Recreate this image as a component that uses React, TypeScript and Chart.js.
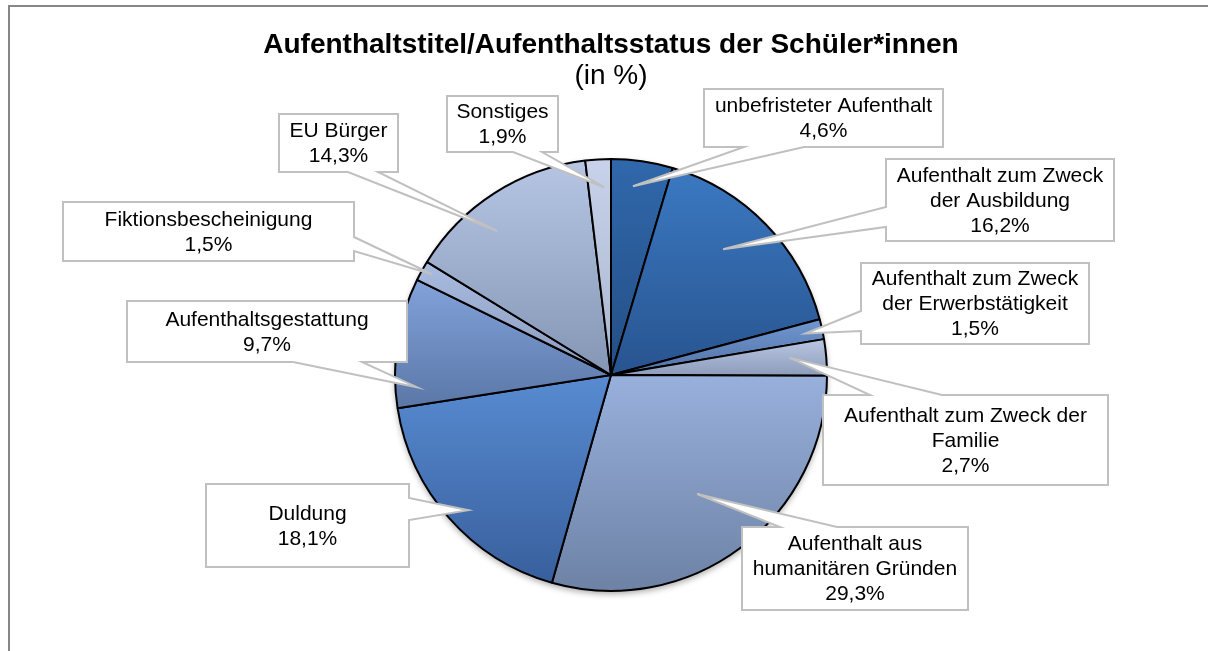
import React, { useEffect, useRef } from 'react';
import { Chart, registerables } from 'chart.js';

Chart.register(...registerables);

// ---------- data ----------
const titleText = 'Aufenthaltstitel/Aufenthaltsstatus der Schüler*innen';
const subtitleText = '(in %)';

const categories = [
  'unbefristeter Aufenthalt',
  'Aufenthalt zum Zweck der Ausbildung',
  'Aufenthalt zum Zweck der Erwerbstätigkeit',
  'Aufenthalt zum Zweck der Familie',
  'Aufenthalt aus humanitären Gründen',
  'Duldung',
  'Aufenthaltsgestattung',
  'Fiktionsbescheinigung',
  'EU Bürger',
  'Sonstiges',
];

const values = [4.6, 16.2, 1.5, 2.7, 29.3, 18.1, 9.7, 1.5, 14.3, 1.9];

// how each category name is wrapped inside its callout box
const labelLines = [
  ['unbefristeter Aufenthalt'],
  ['Aufenthalt zum Zweck', 'der Ausbildung'],
  ['Aufenthalt zum Zweck', 'der Erwerbstätigkeit'],
  ['Aufenthalt zum Zweck der', 'Familie'],
  ['Aufenthalt aus', 'humanitären Gründen'],
  ['Duldung'],
  ['Aufenthaltsgestattung'],
  ['Fiktionsbescheinigung'],
  ['EU Bürger'],
  ['Sonstiges'],
];

// ---------- styles ----------
const topColors = [
  '#3068ab', '#3b79c2', '#7097d0', '#bac7e3', '#98b0dc',
  '#588bd1', '#82a2da', '#a9bbe0', '#b6c5e4', '#c8d2ea',
];
const bottomColors = [
  '#244e85', '#28548f', '#5272a6', '#8c9cba', '#6d82a5',
  '#385f9d', '#5a77a7', '#8a9bbc', '#8596b5', '#a9b6d0',
];

type Callout = {
  box: [number, number, number, number];
  edge: 'top' | 'bottom' | 'left' | 'right';
  base: [number, number];
  t: number; // position of pointer tip along the slice angle (0..1)
  r: number; // position of pointer tip as a fraction of the radius
};

const callouts: Callout[] = [
  { box: [704, 89, 943, 147], edge: 'bottom', base: [744, 804], t: 0.4, r: 0.88 },
  { box: [886, 159, 1114, 241], edge: 'left', base: [207, 227], t: 0.43, r: 0.78 },
  { box: [861, 263, 1089, 344], edge: 'left', base: [311, 331], t: 0.54, r: 0.92 },
  { box: [823, 395, 1108, 485], edge: 'top', base: [870, 942], t: 0.41, r: 0.83 },
  { box: [742, 527, 968, 610], edge: 'top', base: [780, 837], t: 0.51, r: 0.68 },
  { box: [206, 484, 409, 567], edge: 'right', base: [498, 520], t: 0.47, r: 0.91 },
  { box: [127, 301, 407, 362], edge: 'bottom', base: [293, 362], t: 0.15, r: 0.9 },
  { box: [63, 202, 354, 261], edge: 'right', base: [237, 251], t: 0.6, r: 0.95 },
  { box: [279, 114, 398, 172], edge: 'bottom', base: [348, 378], t: 0.39, r: 0.85 },
  { box: [447, 96, 558, 152], edge: 'bottom', base: [513, 542], t: 0.7, r: 0.87 },
];

const FONT = '"Liberation Sans", Arial, Helvetica, sans-serif';
const PIE_RADIUS = 216;

const fmt = (v: number) => v.toFixed(1).replace('.', ',') + '%';

function sliceGradient(context: any) {
  const chart = context.chart;
  const i = context.dataIndex;
  const area = chart.chartArea;
  if (!area || i === undefined) return topColors[i ?? 0];
  const cx = (area.left + area.right) / 2;
  const cy = (area.top + area.bottom) / 2;
  const total = values.reduce((a, b) => a + b, 0);
  let before = 0;
  for (let k = 0; k < i; k++) before += values[k];
  const a0 = -Math.PI / 2 + (before / total) * Math.PI * 2;
  const a1 = a0 + (values[i] / total) * Math.PI * 2;
  const ys = [cy, cy + Math.sin(a0) * PIE_RADIUS, cy + Math.sin(a1) * PIE_RADIUS];
  for (let k = -4; k <= 8; k++) {
    const a = (k * Math.PI) / 2;
    if (a > a0 && a < a1) ys.push(cy + Math.sin(a) * PIE_RADIUS);
  }
  const yMin = Math.min(...ys);
  const yMax = Math.max(...ys);
  const g = chart.ctx.createLinearGradient(0, yMin, 0, Math.max(yMax, yMin + 1));
  g.addColorStop(0, topColors[i]);
  g.addColorStop(1, bottomColors[i]);
  return g;
}

const framePlugin = {
  id: 'frame',
  beforeDraw(chart: any) {
    const ctx = chart.ctx;
    ctx.save();
    ctx.fillStyle = '#ffffff';
    ctx.fillRect(0, 0, chart.width, chart.height);
    ctx.fillStyle = '#878787';
    ctx.fillRect(8, 5, 2, chart.height - 5);
    ctx.fillRect(8, 5, chart.width - 8, 2);
    ctx.restore();
  },
};

const shadowPlugin = {
  id: 'pieShadow',
  beforeDatasetsDraw(chart: any) {
    const meta = chart.getDatasetMeta(0);
    const arc = meta.data[0];
    if (!arc) return;
    const ctx = chart.ctx;
    ctx.save();
    ctx.shadowColor = 'rgba(0,0,0,0.35)';
    ctx.shadowBlur = 6;
    ctx.shadowOffsetY = 3;
    ctx.fillStyle = '#8a9ab5';
    ctx.beginPath();
    ctx.arc(arc.x, arc.y, arc.outerRadius, 0, Math.PI * 2);
    ctx.fill();
    ctx.restore();
  },
};

const calloutPlugin = {
  id: 'callouts',
  afterDatasetsDraw(chart: any) {
    const meta = chart.getDatasetMeta(0);
    const ctx = chart.ctx;
    meta.data.forEach((arc: any, i: number) => {
      const c = callouts[i];
      if (!c) return;
      const ang = arc.startAngle + c.t * (arc.endAngle - arc.startAngle);
      const tx = arc.x + Math.cos(ang) * arc.outerRadius * c.r;
      const ty = arc.y + Math.sin(ang) * arc.outerRadius * c.r;
      const [x0, y0, x1, y1] = c.box;
      const [a, b] = c.base;
      ctx.save();
      ctx.beginPath();
      ctx.moveTo(x0, y0);
      if (c.edge === 'top') { ctx.lineTo(a, y0); ctx.lineTo(tx, ty); ctx.lineTo(b, y0); }
      ctx.lineTo(x1, y0);
      if (c.edge === 'right') { ctx.lineTo(x1, a); ctx.lineTo(tx, ty); ctx.lineTo(x1, b); }
      ctx.lineTo(x1, y1);
      if (c.edge === 'bottom') { ctx.lineTo(b, y1); ctx.lineTo(tx, ty); ctx.lineTo(a, y1); }
      ctx.lineTo(x0, y1);
      if (c.edge === 'left') { ctx.lineTo(x0, b); ctx.lineTo(tx, ty); ctx.lineTo(x0, a); }
      ctx.closePath();
      ctx.fillStyle = '#ffffff';
      ctx.fill();
      ctx.lineWidth = 2;
      ctx.lineJoin = 'miter';
      ctx.strokeStyle = '#c0c0c0';
      ctx.stroke();

      const lines = [...labelLines[i], fmt(values[i])];
      const lh = 25;
      const cx = (x0 + x1) / 2;
      const cy = (y0 + y1) / 2;
      ctx.fillStyle = '#000000';
      ctx.font = `21px ${FONT}`;
      ctx.textAlign = 'center';
      ctx.textBaseline = 'middle';
      lines.forEach((ln, k) => {
        ctx.fillText(ln, cx, cy + (k - (lines.length - 1) / 2) * lh + 1);
      });
      ctx.restore();
    });
  },
};

export default function App() {
  const ref = useRef<HTMLCanvasElement | null>(null);

  useEffect(() => {
    document.body.style.margin = '0';
    const canvas = ref.current;
    if (!canvas) return;
    const chart = new Chart(canvas, {
      type: 'pie',
      data: {
        labels: categories,
        datasets: [
          {
            data: values,
            backgroundColor: sliceGradient as any,
            borderColor: '#000000',
            borderWidth: 2,
            radius: PIE_RADIUS,
            hoverOffset: 0,
          } as any,
        ],
      },
      options: {
        responsive: false,
        animation: false,
        events: [],
        layout: { padding: { left: 14, right: 0, top: 0, bottom: 0 } },
        plugins: {
          legend: { display: false },
          tooltip: { enabled: false },
          title: {
            display: true,
            text: titleText,
            color: '#000000',
            font: { family: FONT, size: 28, weight: 'bold', lineHeight: 1 },
            padding: { top: 31, bottom: 0 },
          },
          subtitle: {
            display: true,
            text: subtitleText,
            color: '#000000',
            font: { family: FONT, size: 28, weight: 'normal', lineHeight: 1 },
            padding: { top: 3, bottom: 9 },
          },
        },
      },
      plugins: [framePlugin, shadowPlugin, calloutPlugin],
    });
    return () => chart.destroy();
  }, []);

  return (
    <div style={{ position: 'fixed', left: 0, top: 0, width: 1208, height: 651 }}>
      <canvas ref={ref} width={1208} height={651} style={{ display: 'block' }} />
    </div>
  );
}
